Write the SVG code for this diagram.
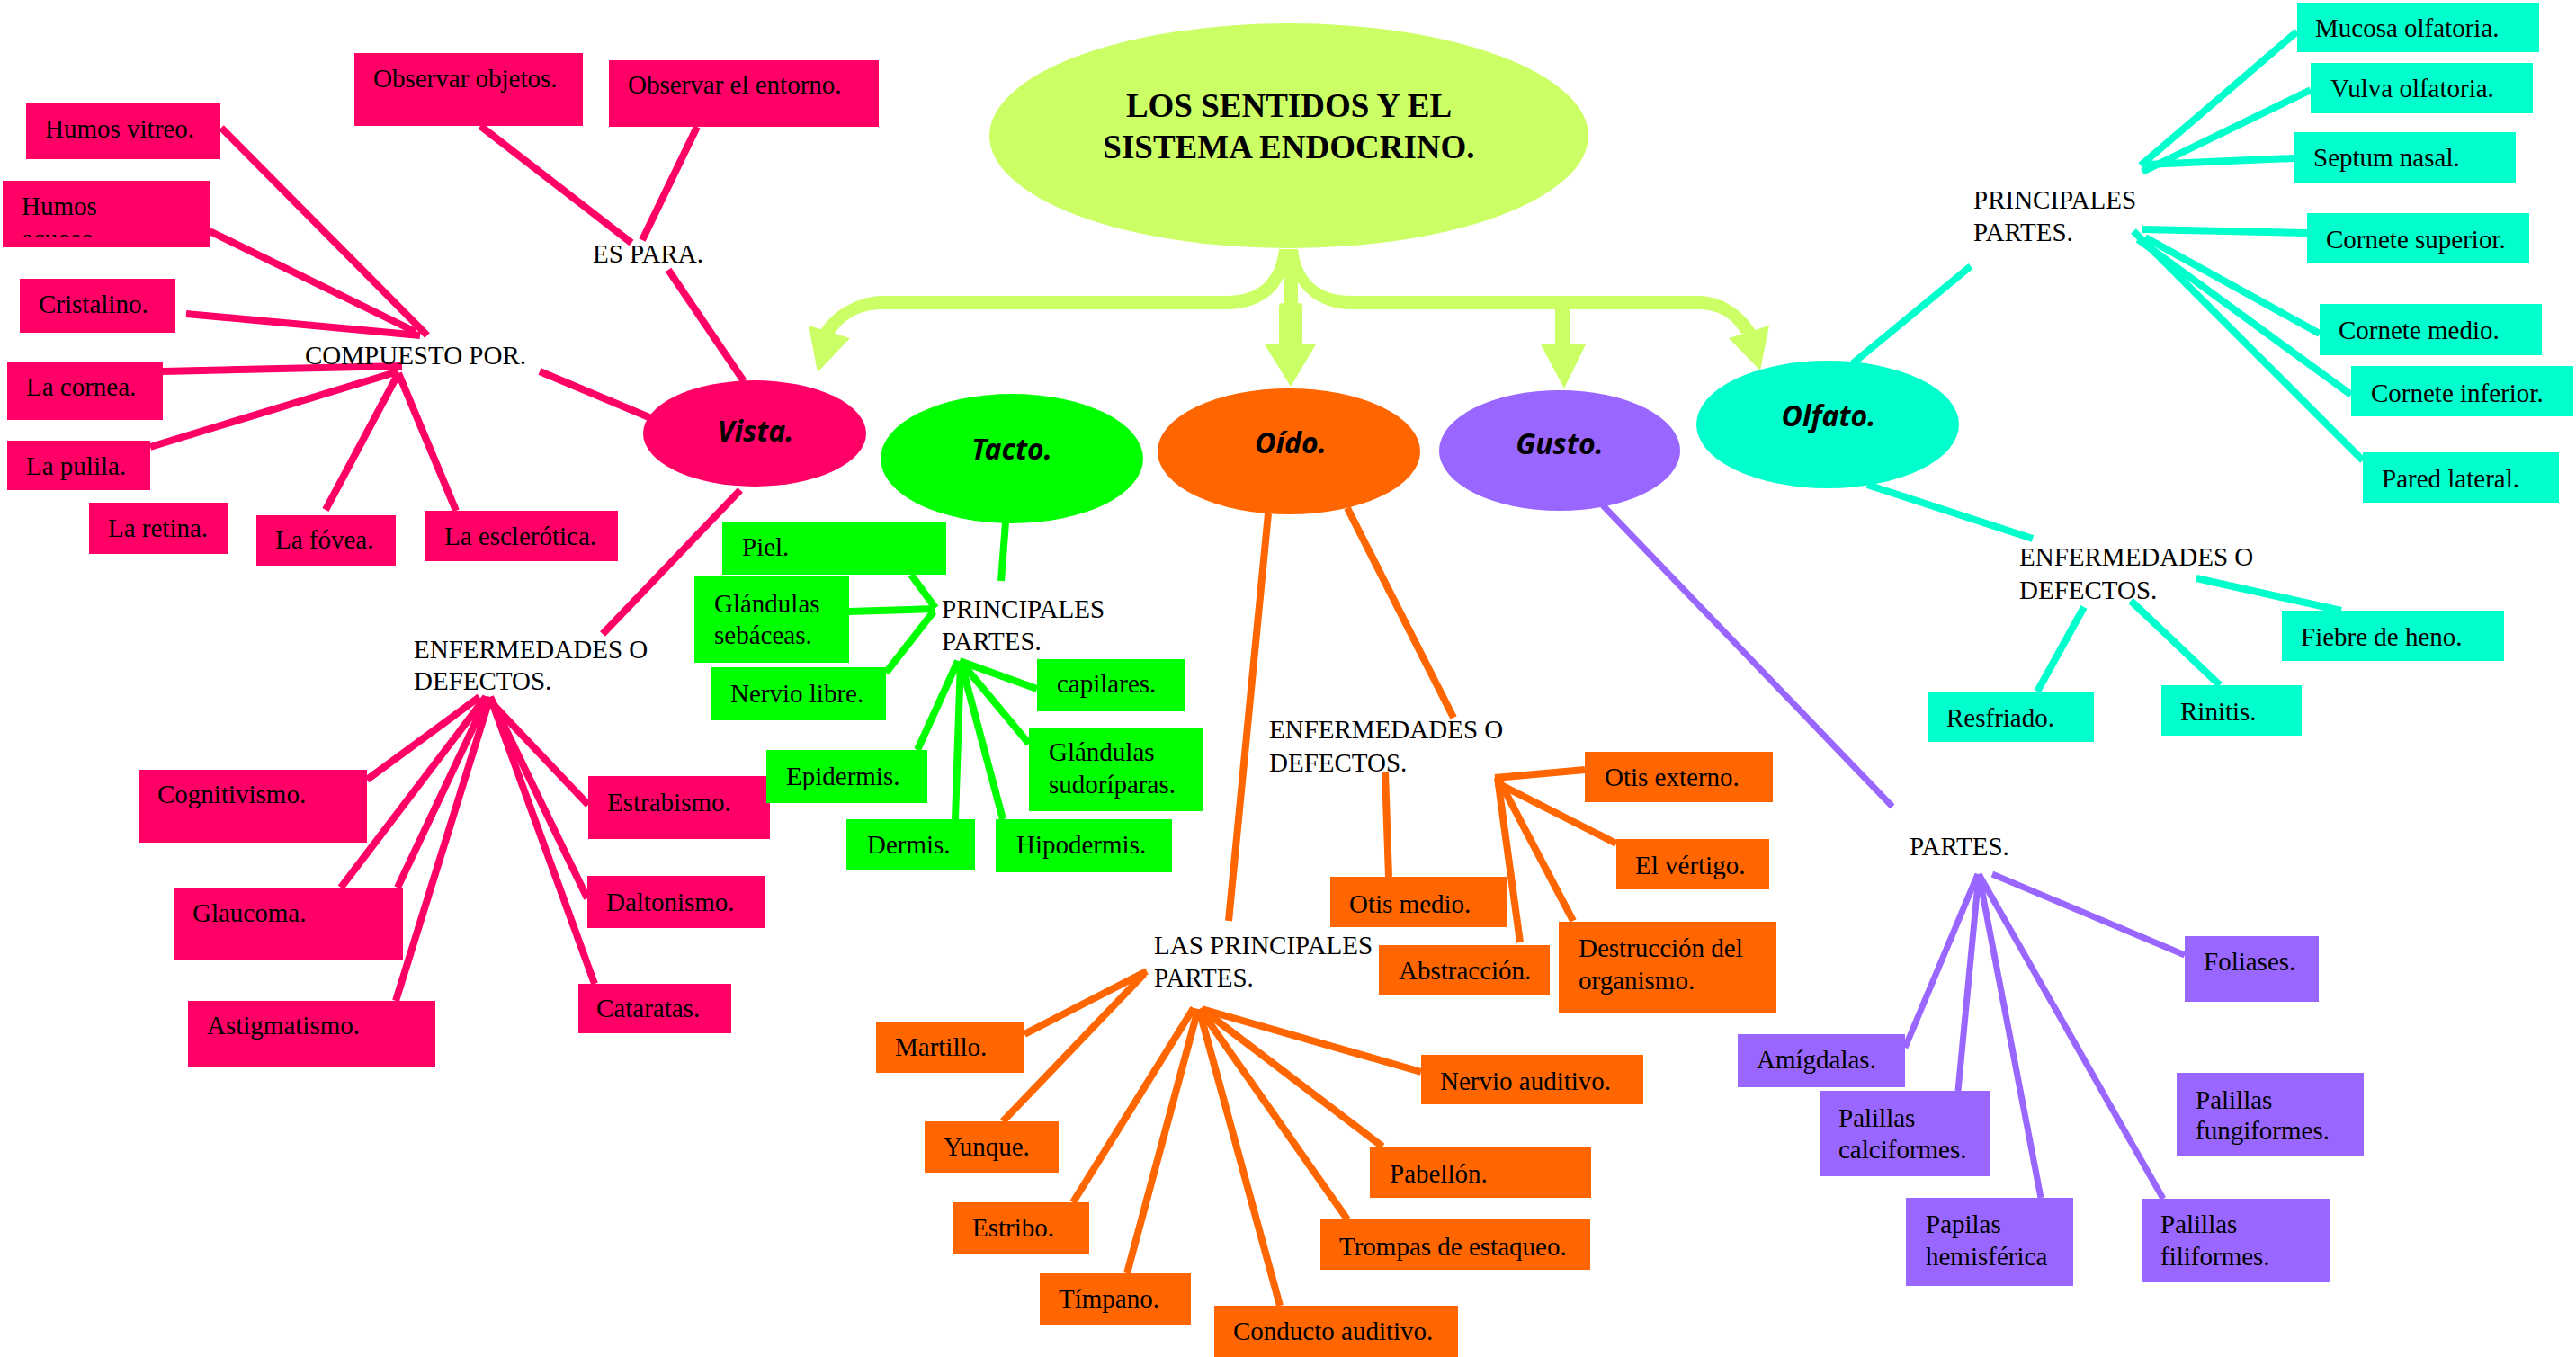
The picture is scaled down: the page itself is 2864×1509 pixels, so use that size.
<svg xmlns="http://www.w3.org/2000/svg" width="2864" height="1509" viewBox="0 0 2864 1509">
<style>
.t{font-family:"Liberation Serif","Times New Roman",serif;font-size:29px;fill:#000}
.h{font-family:"Noto Sans","DejaVu Sans",sans-serif;font-style:italic;font-weight:bold;font-size:32px;fill:#000;text-anchor:middle}
.ti{font-family:"Liberation Serif","Times New Roman",serif;font-weight:bold;font-size:37px;fill:#000;text-anchor:middle}
.pk{fill:#FF0066}.gr{fill:#00FF00}.or{fill:#FF6600}.pu{fill:#9966FF}.cy{fill:#00FFCC}.lg{fill:#CCFF66}
.lp{stroke:#FF0066;stroke-width:8;fill:none}
.lgn{stroke:#00FF00;stroke-width:8;fill:none}
.lo{stroke:#FF6600;stroke-width:8;fill:none}
.lpu{stroke:#9966FF;stroke-width:7;fill:none}
.lc{stroke:#00FFCC;stroke-width:8;fill:none}
</style>
<defs>
<clipPath id="clipH"><rect x="3" y="201" width="230" height="62"/></clipPath>
</defs>
<rect width="2864" height="1509" fill="#fff"/>

<g id="connectors">
 <g id="main-arrows" class="lg">
  <path d="M1422,277 C1418,312 1398,329 1363,329 L981,329 C955,329 925,345 912,368 L928,371 C940,353 958,344 981,344 L1363,344 C1400,344 1422,325 1428,305 L1430,277 Z"/>
  <polygon points="899,362 945,376 909,414"/>
  <rect x="1427" y="277" width="16" height="64"/>
  <rect x="1422" y="337" width="26" height="47" rx="4"/>
  <polygon points="1406,383 1463,383 1435,430"/>
  <path d="M1443,277 C1447,312 1468,329 1503,329 L1888,329 C1915,329 1938,345 1952,368 L1936,371 C1925,353 1910,344 1888,344 L1503,344 C1468,344 1448,325 1440,308 L1436,277 Z"/>
  <polygon points="1967,362 1922,376 1957,412"/>
  <rect x="1729" y="340" width="17" height="44"/>
  <polygon points="1713,383 1763,383 1739,432"/>
 </g>
 <g id="vista-lines" class="lp">
  <line x1="246" y1="142" x2="475" y2="373"/>
  <line x1="233" y1="257" x2="462" y2="369"/>
  <line x1="207" y1="349" x2="467" y2="373"/>
  <line x1="181" y1="413" x2="447" y2="407"/>
  <line x1="167" y1="497" x2="443" y2="413"/>
  <line x1="362" y1="567" x2="443" y2="415"/>
  <line x1="443" y1="415" x2="507" y2="568"/>
  <line x1="600" y1="413" x2="724" y2="465"/>
  <line x1="534" y1="140" x2="702" y2="270"/>
  <line x1="775" y1="141" x2="714" y2="267"/>
  <line x1="743" y1="300" x2="827" y2="424"/>
  <line x1="823" y1="545" x2="670" y2="705"/>
  <line x1="408" y1="867" x2="533" y2="775"/>
  <line x1="654" y1="895" x2="548" y2="783"/>
  <line x1="379" y1="987" x2="540" y2="775"/>
  <line x1="442" y1="987" x2="542" y2="775"/>
  <line x1="440" y1="1113" x2="545" y2="775"/>
  <line x1="653" y1="999" x2="545" y2="775"/>
  <line x1="661" y1="1094" x2="545" y2="775"/>
 </g>
 <g id="tacto-lines" class="lgn">
  <line x1="1118" y1="581" x2="1113" y2="646"/>
  <line x1="1013" y1="639" x2="1040" y2="676"/>
  <line x1="944" y1="680" x2="1040" y2="677"/>
  <line x1="985" y1="748" x2="1038" y2="680"/>
  <line x1="1153" y1="766" x2="1067" y2="735"/>
  <line x1="1144" y1="827" x2="1070" y2="738"/>
  <line x1="1020" y1="834" x2="1065" y2="735"/>
  <line x1="1062" y1="911" x2="1068" y2="735"/>
  <line x1="1115" y1="911" x2="1068" y2="735"/>
 </g>
 <g id="oido-lines" class="lo">
  <line x1="1410" y1="571" x2="1366" y2="1024"/>
  <line x1="1498" y1="565" x2="1616" y2="798"/>
  <line x1="1540" y1="859" x2="1544" y2="975"/>
  <line x1="1762" y1="856" x2="1662" y2="865"/>
  <line x1="1797" y1="938" x2="1665" y2="871"/>
  <line x1="1690" y1="1048" x2="1665" y2="865"/>
  <line x1="1749" y1="1024" x2="1667" y2="868"/>
  <line x1="1139" y1="1150" x2="1275" y2="1080"/>
  <line x1="1115" y1="1247" x2="1272" y2="1083"/>
  <line x1="1193" y1="1337" x2="1327" y2="1121"/>
  <line x1="1253" y1="1416" x2="1332" y2="1122"/>
  <line x1="1423" y1="1452" x2="1333" y2="1122"/>
  <line x1="1498" y1="1356" x2="1334" y2="1122"/>
  <line x1="1537" y1="1275" x2="1336" y2="1122"/>
  <line x1="1580" y1="1192" x2="1336" y2="1122"/>
 </g>
 <g id="gusto-lines" class="lpu">
  <line x1="1782" y1="562" x2="2104" y2="897"/>
  <line x1="2429" y1="1062" x2="2215" y2="972"/>
  <line x1="2118" y1="1165" x2="2199" y2="972"/>
  <line x1="2177" y1="1213" x2="2200" y2="972"/>
  <line x1="2269" y1="1332" x2="2200" y2="972"/>
  <line x1="2405" y1="1333" x2="2200" y2="972"/>
 </g>
 <g id="olfato-lines" class="lc">
  <line x1="2060" y1="404" x2="2191" y2="296"/>
  <line x1="2554" y1="35" x2="2380" y2="184"/>
  <line x1="2569" y1="100" x2="2382" y2="191"/>
  <line x1="2550" y1="176" x2="2385" y2="183"/>
  <line x1="2565" y1="259" x2="2382" y2="255"/>
  <line x1="2579" y1="371" x2="2385" y2="264"/>
  <line x1="2614" y1="439" x2="2377" y2="266"/>
  <line x1="2627" y1="512" x2="2372" y2="257"/>
  <line x1="2076" y1="539" x2="2260" y2="599"/>
  <line x1="2603" y1="679" x2="2442" y2="643"/>
  <line x1="2265" y1="769" x2="2317" y2="675"/>
  <line x1="2468" y1="762" x2="2369" y2="668"/>
 </g>
</g>

<g id="central"><ellipse class="lg" cx="1433" cy="151" rx="333" ry="125"/><text class="ti" x="1433" y="130">LOS SENTIDOS Y EL</text><text class="ti" x="1433" y="176">SISTEMA ENDOCRINO.</text></g>
<g id="vista"><ellipse class="pk" cx="839" cy="482" rx="124" ry="59"/><text class="h" x="840" y="491">Vista.</text></g>
<g id="tacto"><ellipse class="gr" cx="1125" cy="510" rx="146" ry="72"/><text class="h" x="1125" y="511">Tacto.</text></g>
<g id="oido"><ellipse class="or" cx="1433" cy="502" rx="146" ry="70"/><text class="h" x="1435" y="504">Oído.</text></g>
<g id="gusto"><ellipse class="pu" cx="1734" cy="501" rx="134" ry="67"/><text class="h" x="1734" y="505">Gusto.</text></g>
<g id="olfato"><ellipse class="cy" cx="2032" cy="472" rx="146" ry="71"/><text class="h" x="2033" y="474">Olfato.</text></g>

<g id="labels">
 <g id="es-para"><text class="t" x="659" y="292">ES PARA.</text></g>
 <g id="compuesto-por"><text class="t" x="339" y="405">COMPUESTO POR.</text></g>
 <g id="vista-enf"><text class="t" x="460" y="732">ENFERMEDADES O</text><text class="t" x="460" y="767">DEFECTOS.</text></g>
 <g id="tacto-partes"><text class="t" x="1047" y="687">PRINCIPALES</text><text class="t" x="1047" y="723">PARTES.</text></g>
 <g id="oido-enf"><text class="t" x="1411" y="821">ENFERMEDADES O</text><text class="t" x="1411" y="858">DEFECTOS.</text></g>
 <g id="oido-partes"><text class="t" x="1283" y="1061">LAS PRINCIPALES</text><text class="t" x="1283" y="1097">PARTES.</text></g>
 <g id="gusto-partes"><text class="t" x="2123" y="951">PARTES.</text></g>
 <g id="olfato-partes"><text class="t" x="2194" y="232">PRINCIPALES</text><text class="t" x="2194" y="268">PARTES.</text></g>
 <g id="olfato-enf"><text class="t" x="2245" y="629">ENFERMEDADES O</text><text class="t" x="2245" y="666">DEFECTOS.</text></g>
</g>

<g id="vista-nodes">
 <g id="n-obs-obj"><rect class="pk" x="394" y="59" width="254" height="81"/><text class="t" x="415" y="97">Observar objetos.</text></g>
 <g id="n-obs-ent"><rect class="pk" x="677" y="67" width="300" height="74"/><text class="t" x="698" y="104">Observar el entorno.</text></g>
 <g id="n-humos-v"><rect class="pk" x="29" y="115" width="216" height="62"/><text class="t" x="50" y="153">Humos vitreo.</text></g>
 <g id="n-humos-a"><rect class="pk" x="3" y="201" width="230" height="74"/><g clip-path="url(#clipH)"><text class="t" x="24" y="239">Humos</text><text class="t" x="24" y="275">acuoso.</text></g></g>
 <g id="n-cristalino"><rect class="pk" x="22" y="310" width="173" height="60"/><text class="t" x="43" y="348">Cristalino.</text></g>
 <g id="n-cornea"><rect class="pk" x="8" y="402" width="173" height="65"/><text class="t" x="29" y="440">La cornea.</text></g>
 <g id="n-pulila"><rect class="pk" x="8" y="490" width="159" height="55"/><text class="t" x="29" y="528">La pulila.</text></g>
 <g id="n-retina"><rect class="pk" x="99" y="559" width="155" height="57"/><text class="t" x="120" y="597">La retina.</text></g>
 <g id="n-fovea"><rect class="pk" x="285" y="573" width="155" height="56"/><text class="t" x="306" y="610">La fóvea.</text></g>
 <g id="n-esclerotica"><rect class="pk" x="472" y="568" width="215" height="56"/><text class="t" x="494" y="606">La esclerótica.</text></g>
 <g id="n-cognitivismo"><rect class="pk" x="155" y="856" width="253" height="81"/><text class="t" x="175" y="893">Cognitivismo.</text></g>
 <g id="n-estrabismo"><rect class="pk" x="654" y="863" width="202" height="70"/><text class="t" x="675" y="902">Estrabismo.</text></g>
 <g id="n-glaucoma"><rect class="pk" x="194" y="987" width="254" height="81"/><text class="t" x="214" y="1025">Glaucoma.</text></g>
 <g id="n-astigmatismo"><rect class="pk" x="209" y="1113" width="275" height="74"/><text class="t" x="230" y="1150">Astigmatismo.</text></g>
 <g id="n-daltonismo"><rect class="pk" x="653" y="974" width="197" height="58"/><text class="t" x="674" y="1013">Daltonismo.</text></g>
 <g id="n-cataratas"><rect class="pk" x="643" y="1094" width="170" height="55"/><text class="t" x="663" y="1131">Cataratas.</text></g>
</g>

<g id="tacto-nodes">
 <g id="n-piel"><rect class="gr" x="803" y="580" width="249" height="59"/><text class="t" x="825" y="618">Piel.</text></g>
 <g id="n-gland-seb"><rect class="gr" x="772" y="641" width="172" height="96"/><text class="t" x="794" y="681">Glándulas</text><text class="t" x="794" y="716">sebáceas.</text></g>
 <g id="n-nervio-libre"><rect class="gr" x="790" y="742" width="195" height="59"/><text class="t" x="812" y="781">Nervio libre.</text></g>
 <g id="n-capilares"><rect class="gr" x="1153" y="733" width="165" height="58"/><text class="t" x="1175" y="770">capilares.</text></g>
 <g id="n-gland-sud"><rect class="gr" x="1144" y="809" width="194" height="93"/><text class="t" x="1166" y="846">Glándulas</text><text class="t" x="1166" y="882">sudoríparas.</text></g>
 <g id="n-epidermis"><rect class="gr" x="852" y="834" width="179" height="59"/><text class="t" x="874" y="873">Epidermis.</text></g>
 <g id="n-dermis"><rect class="gr" x="941" y="911" width="143" height="56"/><text class="t" x="964" y="949">Dermis.</text></g>
 <g id="n-hipodermis"><rect class="gr" x="1107" y="911" width="196" height="59"/><text class="t" x="1130" y="949">Hipodermis.</text></g>
</g>

<g id="oido-nodes">
 <g id="n-otis-medio"><rect class="or" x="1479" y="975" width="196" height="56"/><text class="t" x="1500" y="1015">Otis medio.</text></g>
 <g id="n-otis-externo"><rect class="or" x="1762" y="836" width="209" height="56"/><text class="t" x="1784" y="874">Otis externo.</text></g>
 <g id="n-vertigo"><rect class="or" x="1797" y="933" width="170" height="56"/><text class="t" x="1818" y="972">El vértigo.</text></g>
 <g id="n-abstraccion"><rect class="or" x="1533" y="1051" width="190" height="56"/><text class="t" x="1555" y="1089">Abstracción.</text></g>
 <g id="n-destruccion"><rect class="or" x="1733" y="1025" width="242" height="101"/><text class="t" x="1755" y="1064">Destrucción del</text><text class="t" x="1755" y="1100">organismo.</text></g>
 <g id="n-martillo"><rect class="or" x="974" y="1136" width="165" height="57"/><text class="t" x="995" y="1174">Martillo.</text></g>
 <g id="n-yunque"><rect class="or" x="1028" y="1247" width="149" height="57"/><text class="t" x="1049" y="1285">Yunque.</text></g>
 <g id="n-estribo"><rect class="or" x="1060" y="1337" width="151" height="57"/><text class="t" x="1081" y="1375">Estribo.</text></g>
 <g id="n-timpano"><rect class="or" x="1156" y="1416" width="168" height="57"/><text class="t" x="1177" y="1454">Tímpano.</text></g>
 <g id="n-conducto"><rect class="or" x="1350" y="1452" width="271" height="57"/><text class="t" x="1371" y="1490">Conducto auditivo.</text></g>
 <g id="n-trompas"><rect class="or" x="1468" y="1356" width="300" height="56"/><text class="t" x="1489" y="1396">Trompas de estaqueo.</text></g>
 <g id="n-pabellon"><rect class="or" x="1523" y="1275" width="246" height="57"/><text class="t" x="1545" y="1315">Pabellón.</text></g>
 <g id="n-nervio-aud"><rect class="or" x="1580" y="1173" width="247" height="55"/><text class="t" x="1601" y="1212">Nervio auditivo.</text></g>
</g>

<g id="gusto-nodes">
 <g id="n-foliases"><rect class="pu" x="2429" y="1041" width="149" height="73"/><text class="t" x="2450" y="1079">Foliases.</text></g>
 <g id="n-amigdalas"><rect class="pu" x="1932" y="1150" width="186" height="59"/><text class="t" x="1953" y="1188">Amígdalas.</text></g>
 <g id="n-calciformes"><rect class="pu" x="2023" y="1213" width="190" height="95"/><text class="t" x="2044" y="1253">Palillas</text><text class="t" x="2044" y="1288">calciformes.</text></g>
 <g id="n-hemisferica"><rect class="pu" x="2119" y="1332" width="186" height="98"/><text class="t" x="2141" y="1371">Papilas</text><text class="t" x="2141" y="1407">hemisférica</text></g>
 <g id="n-filiformes"><rect class="pu" x="2381" y="1333" width="210" height="93"/><text class="t" x="2402" y="1371">Palillas</text><text class="t" x="2402" y="1407">filiformes.</text></g>
 <g id="n-fungiformes"><rect class="pu" x="2420" y="1193" width="208" height="92"/><text class="t" x="2441" y="1233">Palillas</text><text class="t" x="2441" y="1267">fungiformes.</text></g>
</g>

<g id="olfato-nodes">
 <g id="n-mucosa"><rect class="cy" x="2554" y="3" width="269" height="55"/><text class="t" x="2574" y="41">Mucosa olfatoria.</text></g>
 <g id="n-vulva"><rect class="cy" x="2569" y="70" width="247" height="56"/><text class="t" x="2591" y="108">Vulva olfatoria.</text></g>
 <g id="n-septum"><rect class="cy" x="2550" y="147" width="247" height="56"/><text class="t" x="2572" y="185">Septum nasal.</text></g>
 <g id="n-cornete-sup"><rect class="cy" x="2565" y="237" width="247" height="56"/><text class="t" x="2586" y="276">Cornete superior.</text></g>
 <g id="n-cornete-med"><rect class="cy" x="2579" y="338" width="247" height="57"/><text class="t" x="2600" y="377">Cornete medio.</text></g>
 <g id="n-cornete-inf"><rect class="cy" x="2614" y="407" width="247" height="56"/><text class="t" x="2636" y="447">Cornete inferior.</text></g>
 <g id="n-pared"><rect class="cy" x="2627" y="503" width="218" height="56"/><text class="t" x="2648" y="542">Pared lateral.</text></g>
 <g id="n-fiebre"><rect class="cy" x="2537" y="679" width="247" height="56"/><text class="t" x="2558" y="718">Fiebre de heno.</text></g>
 <g id="n-resfriado"><rect class="cy" x="2143" y="769" width="185" height="56"/><text class="t" x="2164" y="808">Resfriado.</text></g>
 <g id="n-rinitis"><rect class="cy" x="2403" y="762" width="156" height="56"/><text class="t" x="2424" y="801">Rinitis.</text></g>
</g>
</svg>
